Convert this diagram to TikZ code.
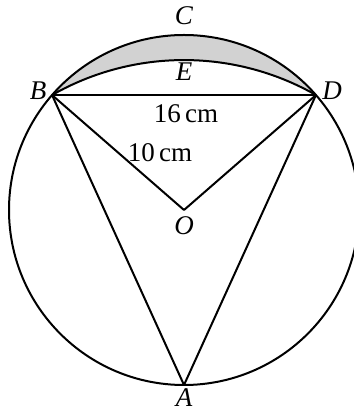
\documentclass[tikz,border=0pt]{standalone}
\usepackage{fontspec}
\setmainfont{Liberation Serif}
\usetikzlibrary{calc}
\begin{document}
\begin{tikzpicture}[x=1pt,y=1pt,
  ln/.style={line width=2pt, line join=round},
  lbl/.style={inner sep=0pt, font=\fontsize{27}{32}\selectfont\itshape},
  meas/.style={inner sep=0pt, font=\fontsize{27}{32}\selectfont}]
\useasboundingbox (0,0) rectangle (353,414);
\coordinate (O) at (184,204);
\coordinate (B) at ($(O)+(138.94:175)$);
\coordinate (D) at ($(O)+(41.06:175)$);
\coordinate (A) at (184,29);
% shaded segment
\fill[gray!35] (B) arc[start angle=138.94, end angle=41.06, radius=175]
  arc[start angle=60.3, end angle=119.7, radius=266.4] -- cycle;
\draw[ln] (O) circle[radius=175];
\draw[ln] (B) arc[start angle=119.7, end angle=60.3, radius=266.4];
\draw[ln] (B) -- (D);
\draw[ln] (B) -- (O) -- (D);
\draw[ln] (B) -- (A) -- (D);
\node[lbl] (lC) at (184,398) {C};
\node[lbl] (lE) at (184,342) {E};
\node[lbl] (lB) at (38,323) {B};
\node[lbl] (lD) at (332,323) {D};
\node[lbl] (lO) at (184,188) {O};
\node[lbl] (lA) at (184,16) {A};
\node[meas] (m16) at (186,300) {16\,cm};
\node[meas] (m10) at (160,261) {10\,cm};
\end{tikzpicture}
\end{document}
